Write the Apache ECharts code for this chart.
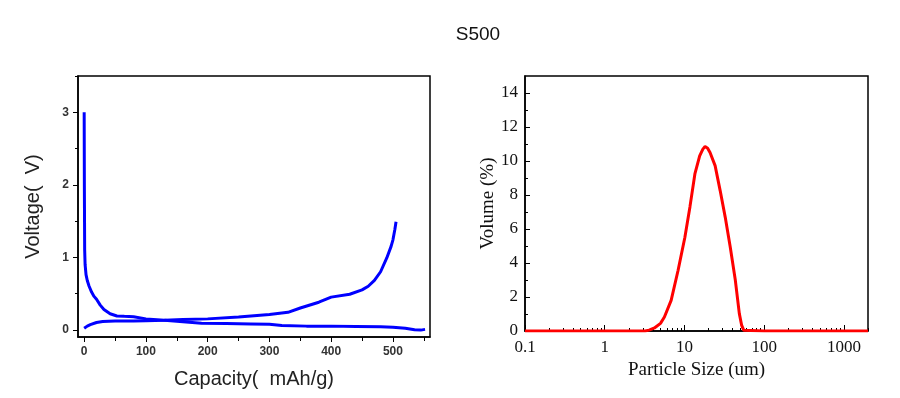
<!DOCTYPE html>
<html>
<head>
<meta charset="utf-8">
<script src="https://cdn.jsdelivr.net/npm/echarts@6/dist/echarts.min.js"></script>
<style>
  html, body { margin: 0; padding: 0; background: #fff; }
  #chart { width: 900px; height: 398px; }
</style>
</head>
<body>
<div id="chart"></div>
<script>
// left panel: charge / discharge curve
const dischargeCap = [0, 0.3, 0.8, 1.5, 3, 5, 8, 12, 16, 20, 26, 32, 42, 53, 65, 80, 100, 130, 160, 190, 230, 270, 300, 320, 360, 400, 440, 480, 500, 520, 535, 545, 552]
const dischargeV = [3.0, 2.0, 1.1, 0.9, 0.76, 0.68, 0.6, 0.52, 0.46, 0.42, 0.34, 0.28, 0.22, 0.19, 0.185, 0.18, 0.15, 0.13, 0.11, 0.09, 0.085, 0.08, 0.075, 0.06, 0.05, 0.05, 0.045, 0.04, 0.035, 0.02, 0.0, -0.005, 0.005]
const chargeCap = [0, 5, 10, 20, 30, 50, 80, 100, 130, 160, 200, 250, 300, 320, 330, 350, 380, 400, 430, 450, 460, 470, 480, 490, 497, 500, 503, 505]
const chargeV = [0.02, 0.05, 0.07, 0.1, 0.115, 0.12, 0.12, 0.125, 0.13, 0.14, 0.15, 0.175, 0.21, 0.23, 0.24, 0.3, 0.38, 0.45, 0.49, 0.55, 0.6, 0.68, 0.8, 0.99, 1.15, 1.24, 1.38, 1.49]
const capTicks = [0, 100, 200, 300, 400, 500]
const capMinor = [50, 150, 250, 350, 450, 550]
const voltTicks = [0, 1, 2, 3]
const voltMinor = [0.5, 1.5, 2.5, 3.5]

// right panel: particle size distribution
const sizeUm = [0.1, 1, 3.2, 3.6, 4.2, 5, 5.6, 6.8, 8.3, 10.1, 11.7, 13.5, 15.5, 17, 18.1, 19.5, 20.9, 24.2, 28, 32.4, 37.5, 43.4, 48.7, 52, 55.4, 100, 2000]
const volumePct = [0, 0, 0, 0.05, 0.18, 0.45, 0.82, 1.8, 3.56, 5.5, 7.3, 9.24, 10.3, 10.7, 10.85, 10.75, 10.5, 9.73, 8.26, 6.7, 4.93, 2.98, 1.02, 0.35, 0.04, 0, 0]
const sizeTicks = [0.1, 1, 10, 100, 1000]
const sizeMinor = [0.2, 0.3, 0.4, 0.5, 0.6, 0.7, 0.8, 0.9, 2, 3, 4, 5, 6, 7, 8, 9, 20, 30, 40, 50, 60, 70, 80, 90, 200, 300, 400, 500, 600, 700, 800, 900, 2000]
const volTicks = [0, 2, 4, 6, 8, 10, 12, 14]
const volMinor = [1, 3, 5, 7, 9, 11, 13]

const sans = 'Liberation Sans, Arial, sans-serif'
const serif = 'Liberation Serif, Times New Roman, serif'
const zip = (xs, ys) => xs.map((x, i) => [x, ys[i]])

const chart = echarts.init(document.getElementById('chart'))

// overlay axis that only carries the minor ticks
const hidden = { axisLine: { show: false, onZero: false }, axisLabel: { show: false }, splitLine: { show: false } }
const axisLine = { onZero: false, lineStyle: { color: '#000', width: 1.5 } }

chart.setOption({
  animation: false,
  title: {
    text: 'S500',
    left: 473,
    top: 20,
    textAlign: 'center',
    textStyle: { fontFamily: sans, fontSize: 19, fontWeight: 'normal', color: '#111' },
  },
  grid: [
    { left: 78, top: 76, width: 352, height: 261, show: true, borderColor: '#000', borderWidth: 1.5 },
    { left: 525, top: 76, width: 343, height: 255, show: true, borderColor: '#000', borderWidth: 1.5 },
  ],
  xAxis: [
    {
      gridIndex: 0, type: 'value', position: 'bottom', min: -10, max: 560,
      name: 'Capacity(  mAh/g)', nameLocation: 'middle', nameGap: 32,
      nameTextStyle: { fontFamily: sans, fontSize: 20, color: '#222' },
      axisLine,
      axisTick: { customValues: capTicks, length: 5, lineStyle: { color: '#000' } },
      axisLabel: { customValues: capTicks, margin: 9, fontFamily: sans, fontSize: 12, fontWeight: 'bold', color: '#333' },
      splitLine: { show: false },
    },
    {
      gridIndex: 0, type: 'value', position: 'bottom', min: -10, max: 560, ...hidden,
      axisTick: { customValues: capMinor, length: 4, lineStyle: { color: '#000' } },
    },
    {
      gridIndex: 1, type: 'log', logBase: 10, position: 'bottom', min: 0.1, max: 2000,
      name: 'Particle Size (um)', nameLocation: 'middle', nameGap: 27,
      nameTextStyle: { fontFamily: serif, fontSize: 19, color: '#111' },
      axisLine,
      axisTick: { customValues: sizeTicks, inside: true, length: 6, lineStyle: { color: '#000' } },
      axisLabel: {
        customValues: sizeTicks, margin: 8, fontFamily: serif, fontSize: 17, color: '#111',
        formatter: (v) => String(v),
      },
      splitLine: { show: false },
    },
    {
      gridIndex: 1, type: 'log', logBase: 10, position: 'bottom', min: 0.1, max: 2000, ...hidden,
      axisTick: { customValues: sizeMinor, inside: true, length: 3, lineStyle: { color: '#000' } },
    },
  ],
  yAxis: [
    {
      gridIndex: 0, type: 'value', position: 'left', min: -0.1, max: 3.5,
      name: 'Voltage(  V)', nameLocation: 'middle', nameGap: 35,
      nameTextStyle: { fontFamily: sans, fontSize: 20, color: '#222' },
      axisLine,
      axisTick: { customValues: voltTicks, length: 5, lineStyle: { color: '#000' } },
      axisLabel: { customValues: voltTicks, margin: 9, fontFamily: sans, fontSize: 12, fontWeight: 'bold', color: '#333' },
      splitLine: { show: false },
    },
    {
      gridIndex: 0, type: 'value', position: 'left', min: -0.1, max: 3.5, ...hidden,
      axisTick: { customValues: voltMinor, length: 3, lineStyle: { color: '#000' } },
    },
    {
      gridIndex: 1, type: 'value', position: 'left', min: 0, max: 15,
      name: 'Volume (%)', nameLocation: 'middle', nameGap: 26,
      nameTextStyle: { fontFamily: serif, fontSize: 19, color: '#111' },
      axisLine,
      axisTick: { customValues: volTicks, inside: true, length: 5, lineStyle: { color: '#000' } },
      axisLabel: { customValues: volTicks, margin: 7, fontFamily: serif, fontSize: 17, color: '#111' },
      splitLine: { show: false },
    },
    {
      gridIndex: 1, type: 'value', position: 'left', min: 0, max: 15, ...hidden,
      axisTick: { customValues: volMinor, inside: true, length: 3, lineStyle: { color: '#000' } },
    },
  ],
  series: [
    {
      type: 'line', xAxisIndex: 0, yAxisIndex: 0, data: zip(dischargeCap, dischargeV),
      showSymbol: false, lineStyle: { color: '#0000ff', width: 3 },
    },
    {
      type: 'line', xAxisIndex: 0, yAxisIndex: 0, data: zip(chargeCap, chargeV),
      showSymbol: false, lineStyle: { color: '#0000ff', width: 3 },
    },
    {
      type: 'line', xAxisIndex: 2, yAxisIndex: 2, data: zip(sizeUm, volumePct),
      showSymbol: false, lineStyle: { color: '#ff0000', width: 3 },
    },
  ],
})
</script>
</body>
</html>
